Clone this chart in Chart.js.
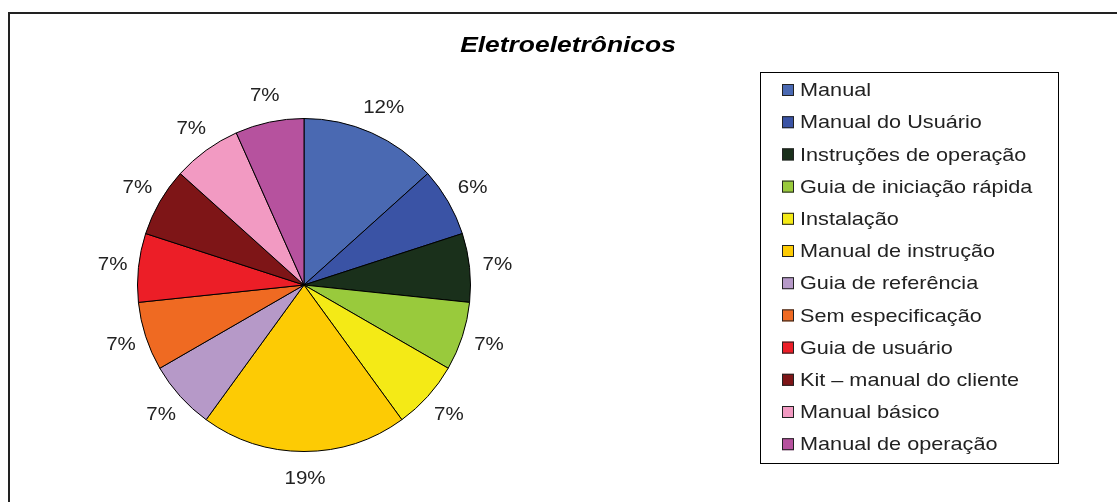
<!DOCTYPE html>
<html>
<head>
<meta charset="utf-8">
<script src="https://cdn.jsdelivr.net/npm/chart.js@4/dist/chart.umd.min.js"></script>
<style>
  html, body { margin: 0; padding: 0; background: #fff; }
  #wrap { position: relative; width: 1117px; height: 502px; overflow: hidden; }
  #frame { position: absolute; left: 8px; top: 12px; right: -10px; bottom: -10px;
           border-left: 2px solid #222; border-top: 2px solid #222; }
  canvas { position: absolute; left: 0; top: 0; }
</style>
</head>
<body>
<div id="wrap">
  <div id="frame"></div>
  <canvas id="pie" width="1117" height="502"></canvas>
</div>
<script>
// ===============================
// DONNEES
// ===============================
const chartTitle = 'Eletroeletrônicos';
const categories = [
  'Manual', 'Manual do Usuário', 'Instruções de operação', 'Guia de iniciação rápida',
  'Instalação', 'Manual de instrução', 'Guia de referência', 'Sem especificação',
  'Guia de usuário', 'Kit – manual do cliente', 'Manual básico', 'Manual de operação'
];
const counts = [2, 1, 1, 1, 1, 3, 1, 1, 1, 1, 1, 1];
// etiquettes telles qu'affichees
const percentLabels = ['12%', '6%', '7%', '7%', '7%', '19%', '7%', '7%', '7%', '7%', '7%', '7%'];
const sliceColors = [
  '#4A69B2', '#3A53A5', '#1A301B', '#99CA3C', '#F4EA16', '#FDCB04',
  '#B699C8', '#EF6A22', '#EC1E27', '#7E1517', '#F29AC2', '#B6529E'
];

const FONT = '"Liberation Sans", Arial, sans-serif';

// texte elargi horizontalement (le scan d'origine est etire)
function wideText(ctx, text, x, y, sx, align) {
  ctx.save();
  ctx.translate(x, y);
  ctx.scale(sx, 1);
  ctx.textAlign = align;
  ctx.fillText(text, 0, 0);
  ctx.restore();
}

// labels + titre + legende
const extrasPlugin = {
  id: 'extras',
  afterDatasetsDraw(chart) {
    const ctx = chart.ctx;
    const meta = chart.getDatasetMeta(0);

    // pourcentages autour du camembert
    ctx.save();
    ctx.font = '19px ' + FONT;
    ctx.fillStyle = '#222';
    ctx.textBaseline = 'middle';
    meta.data.forEach((arc, i) => {
      const p = arc.getProps(['x', 'y', 'startAngle', 'endAngle', 'outerRadius'], true);
      const mid = (p.startAngle + p.endAngle) / 2;
      const r = p.outerRadius + 27;
      wideText(ctx, percentLabels[i], p.x + Math.cos(mid) * r + 1, p.y + Math.sin(mid) * r, 1.08, 'center');
    });

    // titre
    ctx.font = 'italic bold 22px ' + FONT;
    ctx.fillStyle = '#000';
    wideText(ctx, chartTitle, 568, 46, 1.2, 'center');

    // legende
    const lx = 760, ly = 72, lw = 298, lh = 391;
    ctx.fillStyle = '#fff';
    ctx.fillRect(lx, ly, lw, lh);
    ctx.strokeStyle = '#000';
    ctx.lineWidth = 1;
    ctx.strokeRect(lx + 0.5, ly + 0.5, lw, lh);
    ctx.font = '19px ' + FONT;
    categories.forEach((name, i) => {
      const cy = 90 + i * 32.2;
      ctx.fillStyle = sliceColors[i];
      ctx.fillRect(782, cy - 6, 12, 12);
      ctx.strokeStyle = '#222';
      ctx.strokeRect(782.5, cy - 5.5, 11, 11);
      ctx.fillStyle = '#222';
      wideText(ctx, name, 800, cy + 1, 1.14, 'left');
    });
    ctx.restore();
  }
};

new Chart(document.getElementById('pie'), {
  type: 'pie',
  data: {
    labels: categories,
    datasets: [{
      data: counts,
      backgroundColor: sliceColors,
      borderColor: '#000',
      borderWidth: 1
    }]
  },
  options: {
    responsive: false,
    animation: false,
    layout: { padding: { left: 137, top: 118, right: 646, bottom: 50 } },
    plugins: {
      legend: { display: false },
      title: { display: false },
      tooltip: { enabled: false }
    }
  },
  plugins: [extrasPlugin]
});
</script>
</body>
</html>
